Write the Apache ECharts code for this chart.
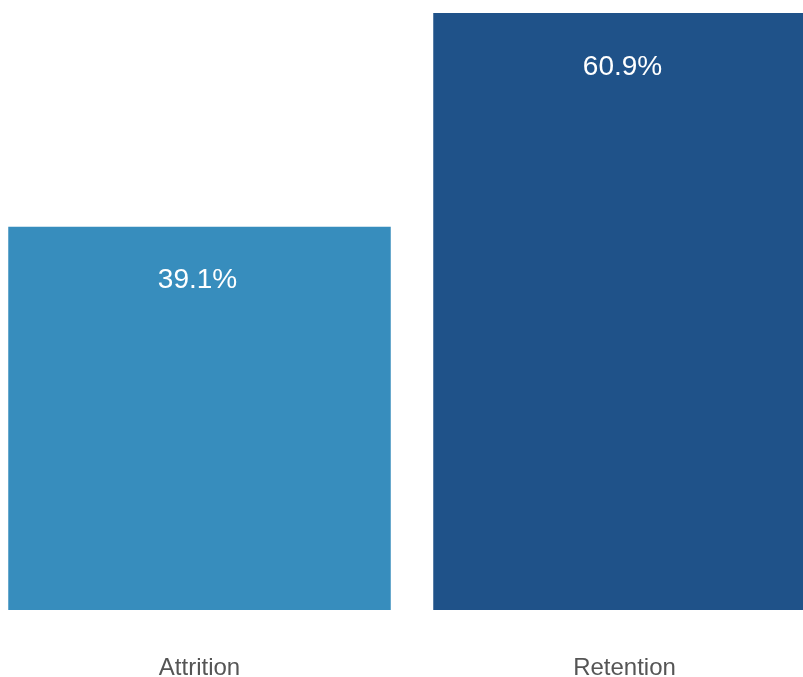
<!DOCTYPE html>
<html>
    <head>
        <meta charset="utf-8">
        <title></title>
        <script src="https://cdn.jsdelivr.net/npm/echarts@6/dist/echarts.min.js"></script>
        <style>
            body { margin: 0; background: #fff; }
        </style>
    </head>
    <body>
    <div id="main" style="width: 803px;height:677px;"></div>
    <script type="text/javascript">
        // 数据
        var categories = ['Attrition', 'Retention']
        var values = [39.1, 60.9]
        var colors = ['#378dbd', '#1f5289']

        var myChart = echarts.init(document.getElementById('main'))
        var data = []
        for (var i = 0; i < values.length; i++) {
            data.push({ value: values[i], itemStyle: { color: colors[i] } })
        }
        var option = {
            animation: false,
            grid: {
                left: -13,
                top: 13,
                width: 850,
                bottom: 67,
                outerBoundsMode: 'none'
            },
            xAxis: {
                type: 'category',
                data: categories,
                axisLine: { show: false },
                axisTick: { show: false },
                axisLabel: {
                    margin: 46,
                    fontSize: 24,
                    color: '#555',
                    fontFamily: 'Liberation Sans'
                }
            },
            yAxis: {
                type: 'value',
                min: 0,
                max: 60.9,
                show: false
            },
            series: [{
                type: 'bar',
                data: data,
                barWidth: '90%',
                label: {
                    show: true,
                    position: 'insideTop',
                    distance: 40,
                    offset: [-2, 0],
                    color: '#fff',
                    fontSize: 28,
                    fontFamily: 'Liberation Sans',
                    formatter: function (p) { return p.value.toFixed(1) + '%' }
                }
            }]
        }
        myChart.setOption(option)
    </script>
    </body>
</html>
